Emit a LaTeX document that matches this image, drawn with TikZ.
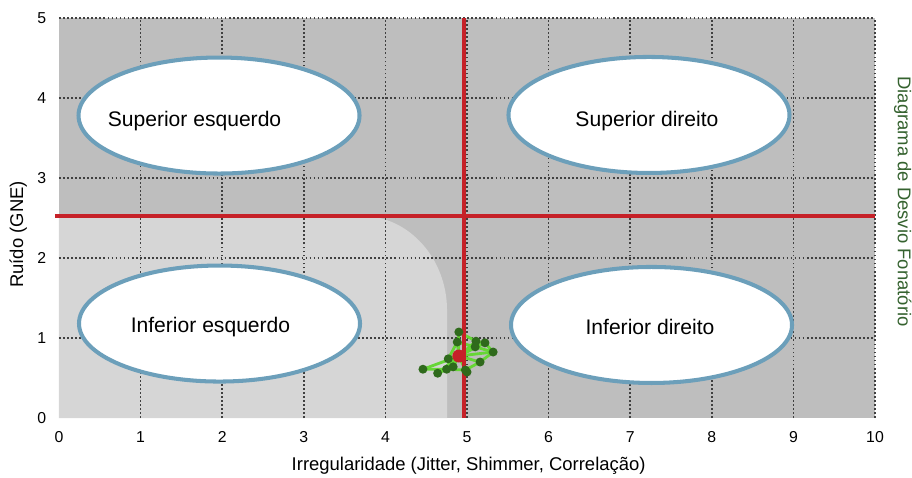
\documentclass[tikz,border=0pt]{standalone}
\usepackage{fontspec}
\setmainfont{Liberation Sans}
\usepackage{tikz}
\usetikzlibrary{shapes.geometric}

\definecolor{darkbg}{HTML}{BEBEBE}
\definecolor{lightbg}{HTML}{D6D6D6}
\definecolor{redline}{HTML}{C62128}
\definecolor{ringblue}{HTML}{6C9FBA}
\definecolor{labelgreen}{HTML}{35622F}
\definecolor{dotgreen}{HTML}{2F6A1C}
\definecolor{pathgreen}{HTML}{66D636}

\begin{document}
\begin{tikzpicture}[x=1.632cm, y=1.6cm,
        gridline/.style={black!75, line width=0.9pt, dash pattern=on 1pt off 1.3pt},
        quadrant/.style={ellipse, draw=ringblue, line width=2.3pt, fill=white, minimum width=5.62cm, minimum height=2.32cm, inner sep=0pt},
        quadlabel/.style={font=\fontsize{12}{14}\selectfont},
        ticklabel/.style={font=\fontsize{9}{11}\selectfont},
        axislabel/.style={font=\fontsize{10.5}{12.5}\selectfont},
        divider/.style={redline, line width=2.8pt},
        trail/.style={pathgreen, line width=1.6pt}]
        \useasboundingbox (-0.723,-0.7375) rectangle (10.453,5.225);
        % background of the plot
        \fill[darkbg] (0,0) rectangle (10,5);
        \fill[lightbg] (0,0) -- (0,2.53) -- (3.69,2.53) to[out=0,in=90] (4.755,1.35) -- (4.755,0) -- cycle;
        \foreach \x in {1,...,10} \draw[gridline] (\x,0) -- (\x,5);
        \foreach \y in {1,...,5} \draw[gridline] (0,\y) -- (10,\y);
        \draw[divider] (-0.05,2.525) -- (10,2.525);
        % green trajectory
        \foreach \px/\py in {4.46/0.61, 4.64/0.56, 4.75/0.61, 4.83/0.64, 4.77/0.74, 4.90/1.075, 4.88/0.95, 5.11/0.96, 5.22/0.94, 5.32/0.825, 5.16/0.70, 4.98/0.60, 5.10/0.89, 5.00/0.575}
            \draw[trail] (4.90,0.775) -- (\px,\py);
        \draw[trail] (4.46,0.61) -- (4.75,0.61) -- (4.98,0.60) -- (5.16,0.70) -- (5.32,0.825) -- (5.22,0.94) -- (5.11,0.96) -- (4.90,1.075);
        \draw[trail] (4.64,0.56) -- (4.83,0.64) -- (4.77,0.74) -- (4.88,0.95) -- (5.10,0.89) -- (5.32,0.825);
        \draw[divider] (4.963,0) -- (4.963,5);
        \foreach \px/\py in {4.46/0.61, 4.64/0.56, 4.75/0.61, 4.83/0.64, 4.77/0.74, 4.90/1.075, 4.88/0.95, 5.11/0.96, 5.22/0.94, 5.32/0.825, 5.16/0.70, 4.98/0.60, 5.10/0.89, 5.00/0.575}
            \fill[dotgreen] (\px,\py) circle (0.09cm);
        \fill[redline] (4.90,0.775) circle (0.13cm);
        % quadrants
        \node[quadrant, label={[quadlabel, xshift=-0.49cm, yshift=-0.11cm]center:Superior esquerdo}] (upleft) at (1.961,3.781) {};
        \node[quadrant, label={[quadlabel, xshift=-0.04cm, yshift=-0.12cm]center:Superior direito}] (upright) at (7.230,3.788) {};
        \node[quadrant, label={[quadlabel, xshift=-0.18cm, yshift=-0.07cm]center:Inferior esquerdo}] (lowleft) at (1.967,1.181) {};
        \node[quadrant, label={[quadlabel, xshift=-0.03cm, yshift=-0.04cm]center:Inferior direito}] (lowright) at (7.261,1.163) {};
        % axes
        \foreach \x in {0,...,10} \node[ticklabel] (xtick\x) at (\x,-0.24) {\x};
        \foreach \y in {0,...,5} \node[ticklabel, anchor=east] (ytick\y) at (-0.08,\y) {\y};
        \node[axislabel] (xtitle) at (5.02,-0.60) {Irregularidade (Jitter, Shimmer, Correlação)};
        \node[axislabel, rotate=90] (ytitle) at (-0.50,2.294) {Ruído (GNE)};
        \node[axislabel, rotate=-90, text=labelgreen] (sidetitle) at (10.34,2.706) {Diagrama de Desvio Fonatório};
\end{tikzpicture}
\end{document}
